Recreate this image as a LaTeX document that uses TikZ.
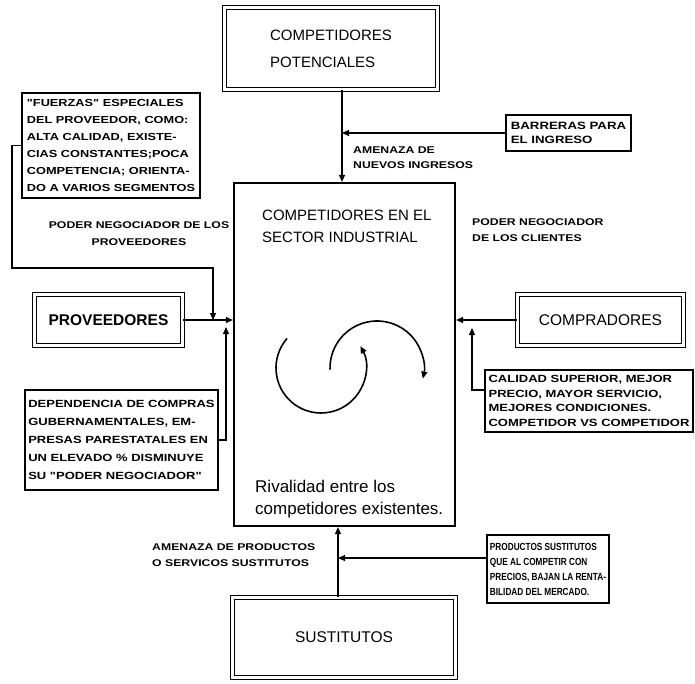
\documentclass[tikz,border=0pt]{standalone}
\usepackage{fontspec}
\setmainfont{Liberation Sans}
\newfontfamily\wfont[FakeStretch=1.25]{Liberation Sans}
\newfontfamily\nfont[FakeStretch=0.8]{Liberation Sans}
\usetikzlibrary{arrows.meta}

\begin{document}
\begin{tikzpicture}[x=1pt,y=-1pt,
  arr/.style={-{Triangle[length=7pt,width=6pt]},line width=1.1pt},
  dbox/.style={draw,double,double distance=2.8pt,line width=1.2pt,inner sep=0pt},
  tbox/.style={draw,line width=1.1pt,inner sep=0pt,align=left},
  lbl/.style={inner sep=0pt,align=left,font=\wfont\bfseries\fontsize{9.8}{15}\selectfont}]
\useasboundingbox (0,0) rectangle (695,684);

% sector industrial
\node[draw,line width=2.2pt,minimum width=221pt,minimum height=343pt] (ind) at (344.5,354.5) {};
\node[anchor=west,align=left,inner sep=0pt,font=\fontsize{15}{22}\selectfont] (titulo) at (262,226) {COMPETIDORES EN EL\\SECTOR INDUSTRIAL};
\node[anchor=west,align=left,inner sep=0pt,font=\fontsize{17}{22}\selectfont] (rival) at (255,499) {Rivalidad entre los\\competidores existentes.};

% las cuatro fuerzas
\node[dbox,minimum width=212.8pt,minimum height=81.8pt,align=left,font=\fontsize{15}{27}\selectfont] (pot) at (331,48.5) {COMPETIDORES\\POTENCIALES};
\node[dbox,minimum width=147.8pt,minimum height=50.8pt,font=\bfseries\fontsize{15.5}{18}\selectfont] (prov) at (108.5,320) {PROVEEDORES};
\node[dbox,minimum width=165.8pt,minimum height=50.8pt,font=\fontsize{15.5}{18}\selectfont] (comp) at (600.5,320) {COMPRADORES};
\node[dbox,minimum width=222.8pt,minimum height=79.8pt,font=\fontsize{15.5}{18}\selectfont] (sust) at (344,637.5) {SUSTITUTOS};

% notas
\node[tbox,minimum width=178pt,minimum height=105pt,font=\wfont\bfseries\fontsize{10.2}{17}\selectfont] (fuer) at (111,145.5) {"FUERZAS" ESPECIALES\\DEL PROVEEDOR, COMO:\\ALTA CALIDAD, EXISTE-\\CIAS CONSTANTES;POCA\\COMPETENCIA; ORIENTA-\\DO A VARIOS SEGMENTOS};
\node[tbox,minimum width=125pt,minimum height=36pt,font=\wfont\bfseries\fontsize{10.6}{14}\selectfont] (barr) at (568.5,133) {BARRERAS PARA\\EL INGRESO};
\node[tbox,minimum width=193pt,minimum height=100pt,font=\wfont\bfseries\fontsize{10.4}{18}\selectfont] (dep) at (121.5,440) {DEPENDENCIA DE COMPRAS\\GUBERNAMENTALES, EM-\\PRESAS PARESTATALES EN\\UN ELEVADO \% DISMINUYE\\SU "PODER NEGOCIADOR"};
\node[tbox,minimum width=208pt,minimum height=62pt,font=\wfont\bfseries\fontsize{10.4}{14.5}\selectfont] (cal) at (589,401) {CALIDAD SUPERIOR, MEJOR\\PRECIO, MAYOR SERVICIO,\\MEJORES CONDICIONES.\\COMPETIDOR VS COMPETIDOR};
\node[tbox,minimum width=122pt,minimum height=68pt,font=\nfont\bfseries\fontsize{10.3}{15}\selectfont] (prod) at (548,569) {PRODUCTOS SUSTITUTOS\\QUE AL COMPETIR CON\\PRECIOS, BAJAN LA RENTA-\\BILIDAD DEL MERCADO.};

\node[lbl,anchor=west] (amen) at (353,157.5) {AMENAZA DE\\NUEVOS INGRESOS};
\node[lbl,align=center,font=\wfont\bfseries\fontsize{9.8}{17}\selectfont] (podp) at (139,233.5) {PODER NEGOCIADOR DE LOS\\PROVEEDORES};
\node[lbl,anchor=west,font=\wfont\bfseries\fontsize{9.8}{16}\selectfont] (podc) at (472,230) {PODER NEGOCIADOR\\DE LOS CLIENTES};
\node[lbl,anchor=west,font=\wfont\bfseries\fontsize{9.8}{16}\selectfont] (amenp) at (152,555) {AMENAZA DE PRODUCTOS\\O SERVICOS SUSTITUTOS};

\coordinate (tx) at (342,0);
\coordinate (sx) at (338,0);
\coordinate (f1) at (12,0);
\coordinate (f2) at (213,268);
\coordinate (d1) at (226,327);
\coordinate (c1) at (472,328);

\draw[arr] (pot.south -| tx) -- (ind.north -| tx);
\draw[arr] (barr.west) -- (barr.west -| tx);
\draw[arr] (prov.east) -- (prov.east -| ind.west);
\draw[arr] (fuer.west) -- (fuer.west -| f1) |- (f2) -- (f2 |- prov.east);
\draw[arr] (dep.east) -| (d1);
\draw[arr] (comp.west) -- (comp.west -| ind.east);
\draw[arr] ([yshift=11pt]cal.west) -| (c1);
\draw[arr] (sust.north -| sx) -- (ind.south -| sx);
\draw[arr] ([yshift=11pt]prod.west) -- ([yshift=11pt]prod.west -| sx);

% rivalidad
\coordinate (g1) at (321,368);
\coordinate (g2) at (377,368);
\draw[arr,line width=1.6pt] (g1) ++(139:45pt) arc[start angle=139,end angle=389,radius=45pt];
\draw[arr,line width=1.6pt] (g2) ++(182:47pt) arc[start angle=182,end angle=-13,radius=47pt];
\end{tikzpicture}
\end{document}
